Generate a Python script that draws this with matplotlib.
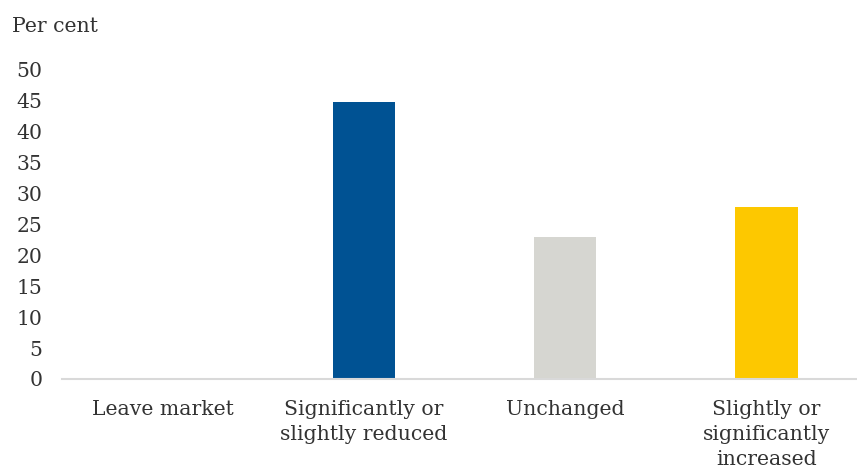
import matplotlib.pyplot as plt

categories = ['Leave market', 'Significantly or\nslightly reduced', 'Unchanged',
              'Slightly or\nsignificantly\nincreased']
values = [0, 44.8, 23.0, 27.8]
colors = ['#005293', '#005293', '#D6D6D1', '#FDC800']
yticks = list(range(0, 55, 5))

plt.rcParams['font.family'] = ['DejaVu Serif']
text_color = '#333333'
fs = 14.7

fig = plt.figure(figsize=(8.57, 4.72), dpi=100)
ax = fig.add_axes([62 / 857, 93 / 472, 795 / 857, 309 / 472])

x = range(len(categories))
ax.bar(x, values, width=0.31, color=colors, zorder=2)

ax.set_xlim(-0.5, 3.45)
ax.set_ylim(0, 50)
ax.set_yticks(yticks)
ax.set_yticklabels([str(v) for v in yticks], fontsize=fs, color=text_color)
ax.set_xticks(list(x))
ax.set_xticklabels(categories, fontsize=fs, color=text_color, linespacing=1.42)

for s in ['top', 'right', 'left']:
    ax.spines[s].set_visible(False)
ax.spines['bottom'].set_color('#d9d9d9')
ax.spines['bottom'].set_linewidth(1.5)
ax.tick_params(axis='both', length=0)
ax.tick_params(axis='y', pad=14)
ax.tick_params(axis='x', pad=15)

fig.text(12 / 857, 1 - 27 / 472, 'Per cent', fontsize=fs, color=text_color,
         va='center', ha='left')

fig.savefig('out.png', dpi=100)
